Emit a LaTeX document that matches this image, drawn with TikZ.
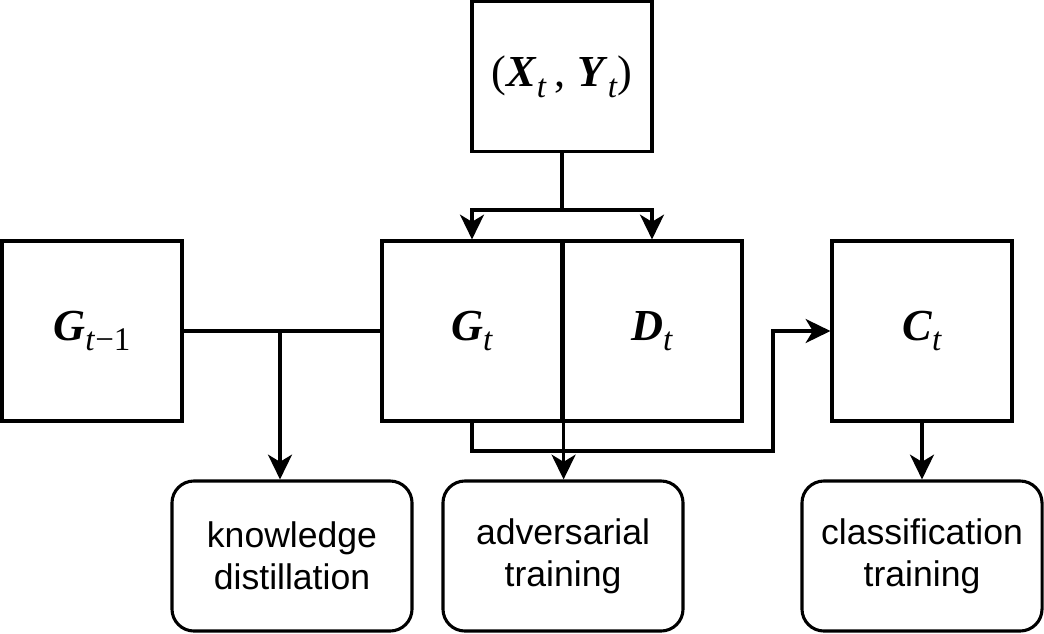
\documentclass[tikz,border=0pt]{standalone}
\usepackage{fontspec}
\setmainfont{Liberation Sans}
\newfontfamily\tms{Liberation Serif}
\newcommand\mvar[2]{\textbf{\textit{#1}}\raisebox{-0.24em}{\fontsize{23.5}{24}\selectfont #2}}
\usetikzlibrary{arrows.meta}

\begin{document}
\begin{tikzpicture}[x=0.025cm,y=-0.025cm,>={Stealth[length=0.62cm,width=0.6cm,inset=0.18cm]},
    line width=2.2pt,
    block/.style={draw,minimum width=4.5cm,minimum height=4.5cm,inner sep=0pt,
        font=\tms\fontsize{31.5}{34}\selectfont},
    task/.style={draw,rounded corners=0.55cm,minimum width=6cm,minimum height=3.75cm,
        align=center,inner sep=0pt,font=\fontsize{25.3}{30}\selectfont}]

    \useasboundingbox (0,0) rectangle (1044,633);

    \node[block,minimum height=3.75cm] (xy) at (562,76.5) {(\mvar{X}{\textit{t}}\,,\;\mvar{Y}{\textit{t}})};

    \node[block] (gprev) at (92,331) {\mvar{G}{\textit{t}−1}};
    \node[block] (gt) at (472,331) {\mvar{G}{\textit{t}}};
    \node[block] (dt) at (652,331) {\mvar{D}{\textit{t}}};
    \node[block] (ct) at (922,331) {\mvar{C}{\textit{t}}};

    \node[task] (kd) at (292,556) {knowledge\\distillation};
    \node[task] (adv) at (563,556) {adversarial\\training};
    \node[task] (cls) at (922,556) {classification\\training};

    \coordinate (fork) at (562,210);
    \coordinate (kdin) at (280,331);
    \coordinate (bend) at (773,451);

    \draw (xy.south) -- (fork);
    \draw[->] (fork) -| (gt.north);
    \draw[->] (fork) -| (dt.north);

    \draw (gprev.east) -- (gt.west);
    \draw[->] (kdin) -- (kdin |- kd.north);

    \draw[->] (gt.north east) -- (gt.north east |- adv.north);

    \draw[->] (gt.south) |- (bend) |- (ct.west);
    \draw[->] (ct.south) -- (cls.north);

\end{tikzpicture}
\end{document}
